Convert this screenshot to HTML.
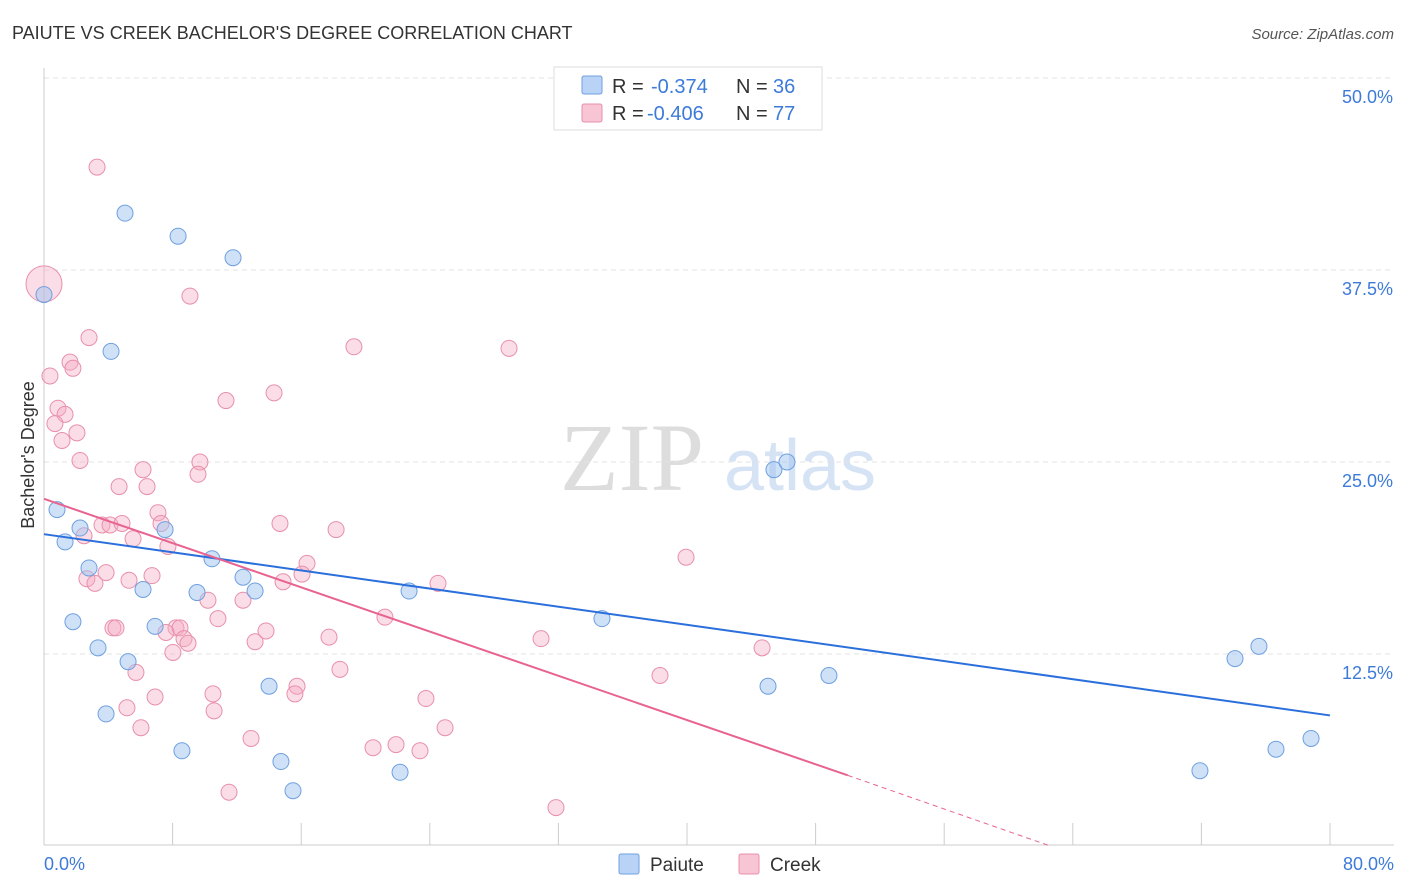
<!DOCTYPE html>
<html><head><meta charset="utf-8"><style>
body{margin:0;background:#fff;font-family:"Liberation Sans",sans-serif;}
svg{display:block}
</style></head><body>
<svg id="chart" width="1406" height="892" xmlns="http://www.w3.org/2000/svg">
<text x="12" y="39" font-size="18" fill="#333">PAIUTE VS CREEK BACHELOR'S DEGREE CORRELATION CHART</text>
<text x="1394" y="39" font-size="15" fill="#555" text-anchor="end" font-style="italic">Source: ZipAtlas.com</text>
<text x="632" y="490" font-size="96" fill="#ddd" font-family="Liberation Serif,serif" text-anchor="middle">ZIP</text>
<text x="800" y="490" font-size="72" fill="#d5e3f5" text-anchor="middle">atlas</text>
<text x="34" y="455" font-size="18" fill="#333" transform="rotate(-90 34 455)" text-anchor="middle">Bachelor's Degree</text>
<g id="grid"></g><g id="axes"></g><g id="marks"></g>
<g>
<rect x="554" y="67" width="268" height="63" fill="#fff" stroke="#ddd"/>
<rect x="582" y="76" width="20" height="18" fill="#b8d3f5" stroke="#6fa0e0" rx="2"/>
<rect x="582" y="104" width="20" height="18" fill="#f8c5d5" stroke="#e890ab" rx="2"/>
<text x="612" y="93" font-size="20" fill="#333">R =</text>
<text x="651" y="93" font-size="20" fill="#3d7bd9">-0.374</text>
<text x="736" y="93" font-size="20" fill="#333">N =</text>
<text x="773" y="93" font-size="20" fill="#3d7bd9">36</text>
<text x="612" y="120" font-size="20" fill="#333">R =</text>
<text x="647" y="120" font-size="20" fill="#3d7bd9">-0.406</text>
<text x="736" y="120" font-size="20" fill="#333">N =</text>
<text x="773" y="120" font-size="20" fill="#3d7bd9">77</text>
</g>
<g>
<rect x="619" y="854" width="20" height="20" fill="#b8d3f5" stroke="#6fa0e0" rx="2"/>
<text x="650" y="871" font-size="19" fill="#333">Paiute</text>
<rect x="739" y="854" width="20" height="20" fill="#f8c5d5" stroke="#e890ab" rx="2"/>
<text x="770" y="871" font-size="19" fill="#333">Creek</text>
</g>
</svg>
<script>
const yTicks=[12.5,25,37.5,50];
const yTickLabels=["12.5%","25.0%","37.5%","50.0%"];
const xTicks=[0,8,16,24,32,40,48,56,64,72,80];
const paiuteX=[5.04,8.34,11.76,0,4.17,0.81,1.31,2.24,7.53,2.80,10.45,6.16,12.38,13.13,9.52,1.80,6.91,3.36,5.23,14.0,3.86,8.58,14.74,15.49,22.15,22.71,34.71,45.41,46.22,45.04,48.83,74.09,75.58,71.91,76.64,78.82];
const paiuteY=[41.2,39.7,38.3,35.9,32.2,21.9,19.8,20.7,20.6,18.1,18.7,16.7,17.5,16.6,16.5,14.6,14.3,12.9,12.0,10.4,8.6,6.2,5.5,3.6,4.8,16.6,14.8,24.5,25.0,10.4,11.1,12.2,13.0,4.9,6.3,7.0];
const creekX=[3.30,9.08,1.62,2.80,19.28,28.93,1.80,0.37,11.32,14.31,0.87,1.31,0.68,2.05,1.12,2.24,6.16,9.70,9.58,4.67,6.41,7.09,7.28,3.61,4.11,4.85,14.68,18.17,2.49,5.54,7.71,16.36,39.94,6.72,3.86,2.67,3.17,5.29,14.87,16.05,24.51,10.20,12.38,10.82,21.21,4.29,4.48,8.21,8.46,7.59,13.81,8.71,8.96,8.02,13.13,17.73,30.92,44.67,5.72,18.41,38.32,15.74,15.61,10.51,6.91,5.16,10.58,23.76,6.03,24.95,12.88,20.47,21.90,23.39,11.51,31.85];
const creekY=[44.2,35.8,31.5,33.1,32.5,32.4,31.1,30.6,29.0,29.5,28.5,28.1,27.5,26.9,26.4,25.1,24.5,25.0,24.2,23.4,23.4,21.7,21.0,20.9,20.9,21.0,21.0,20.6,20.2,20.0,19.5,18.4,18.8,17.6,17.8,17.4,17.1,17.3,17.2,17.7,17.1,16.0,16.0,14.8,14.9,14.2,14.2,14.2,14.2,13.9,14.0,13.5,13.2,12.6,13.3,13.6,13.5,12.9,11.3,11.5,11.1,10.4,9.9,9.9,9.7,9.0,8.8,9.6,7.7,7.7,7.0,6.4,6.6,6.2,3.5,2.5];
const creekBig=[0,36.6];
const paiuteTrend=[20.3,8.5];
const creekTrend=[22.6,4.6,62.6];
const NS="http://www.w3.org/2000/svg";
const sx=v=>44+v*16.075, sy=v=>846-v*15.36;
function mk(parent,tag,attrs){const e=document.createElementNS(NS,tag);for(const k in attrs)e.setAttribute(k,attrs[k]);document.getElementById(parent).appendChild(e);return e;}
yTicks.forEach((t,i)=>{
 const l=mk('grid','line',{x1:44,x2:1394,y1:sy(t),y2:sy(t),stroke:'#e3e3e3','stroke-dasharray':'5,4'});
 
 
 const tx=mk('grid','text',{x:1393,y:sy(t)+25,'font-size':18,fill:'#3d7bd9','text-anchor':'end'});
 tx.textContent=yTickLabels[i];
 
 
});
const ax=mk('axes','line',{x1:44,x2:1394,y1:845,y2:845,stroke:'#ccc'});


const ay=mk('axes','line',{x1:44,x2:44,y1:68,y2:845,stroke:'#ccc'});


xTicks.forEach(t=>{
 const l=mk('axes','line',{x1:sx(t),x2:sx(t),y1:823,y2:845,stroke:'#ccc'});
 
 
});
const xl0=mk('axes','text',{x:44,y:870,'font-size':18,fill:'#3d7bd9'});xl0.textContent=xTicks[0].toFixed(1)+'%';


const xl1=mk('axes','text',{x:1394,y:870,'font-size':18,fill:'#3d7bd9','text-anchor':'end'});xl1.textContent=xTicks[xTicks.length-1].toFixed(1)+'%';


creekX.forEach((x,i)=>{
 const c=mk('marks','circle',{cx:sx(x),cy:sy(creekY[i]),r:8,fill:'rgba(245,170,195,0.4)',stroke:'#e890ab','stroke-width':1});
 
 
});
const big=mk('marks','circle',{cx:sx(creekBig[0]),cy:sy(creekBig[1]),r:18,fill:'rgba(245,170,195,0.4)',stroke:'#e890ab'});


paiuteX.forEach((x,i)=>{
 const c=mk('marks','circle',{cx:sx(x),cy:sy(paiuteY[i]),r:8,fill:'rgba(160,195,240,0.5)',stroke:'#6fa0e0','stroke-width':1});
 
 
});
const bt=mk('marks','line',{x1:sx(0),y1:sy(paiuteTrend[0]),x2:sx(80),y2:sy(paiuteTrend[1]),stroke:'#2a6fdb','stroke-width':2});


const pt=mk('marks','line',{x1:sx(0),y1:sy(creekTrend[0]),x2:sx(50),y2:sy(creekTrend[1]),stroke:'#e8638f','stroke-width':2});


const pd=mk('marks','line',{x1:sx(50),y1:sy(creekTrend[1]),x2:sx(creekTrend[2]),y2:sy(0),stroke:'#e8638f','stroke-width':1,'stroke-dasharray':'5,4'});


</script>
</body></html>
